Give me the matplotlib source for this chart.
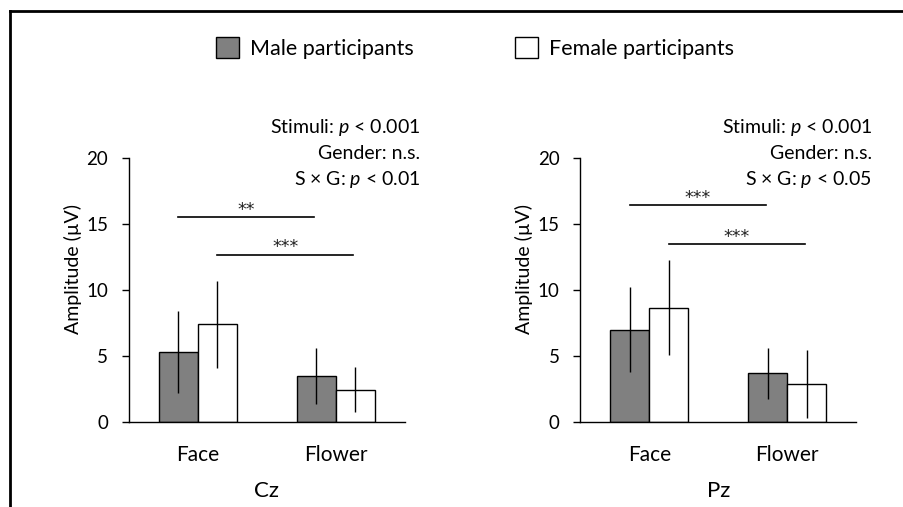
import matplotlib
matplotlib.use("Agg")
import matplotlib.pyplot as plt
from matplotlib.patches import Patch
from matplotlib.lines import Line2D

plt.rcParams['font.family'] = ['Lato', 'DejaVu Sans']
plt.rcParams['mathtext.fontset'] = 'custom'
plt.rcParams['mathtext.rm'] = 'Lato'
plt.rcParams['mathtext.it'] = 'Lato:italic'

categories = ["Face", "Flower"]
series = ["Male participants", "Female participants"]

cz_male = [5.3, 3.5]
cz_male_err = [3.1, 2.1]
cz_female = [7.4, 2.45]
cz_female_err = [3.3, 1.7]

pz_male = [7.0, 3.7]
pz_male_err = [3.2, 1.95]
pz_female = [8.65, 2.9]
pz_female_err = [3.6, 2.6]

# (height, series index, stars)
cz_sig = [(15.5, 0, "**"), (12.65, 1, "***")]
pz_sig = [(16.4, 0, "***"), (13.45, 1, "***")]

cz_stats = ["Stimuli: $p$ < 0.001", "Gender: n.s.", "S × G: $p$ < 0.01"]
pz_stats = ["Stimuli: $p$ < 0.001", "Gender: n.s.", "S × G: $p$ < 0.05"]

colors = ["#808080", "white"]
w = 0.283

fig = plt.figure(figsize=(9.04, 5.07), dpi=100)


def panel(rect, male, male_err, female, female_err, sig, stats, name):
    ax = fig.add_axes(rect)
    x = [0, 1]
    for k, (vals, errs) in enumerate([(male, male_err), (female, female_err)]):
        pos = [i + (k - 0.5) * w for i in x]
        ax.bar(pos, vals, width=w, color=colors[k], edgecolor="black", linewidth=1.0, zorder=2)
        ax.errorbar(pos, vals, yerr=errs, fmt="none", ecolor="black", elinewidth=1.0, capsize=0, zorder=3)
    for h, k, stars in sig:
        x0 = 0 + (k - 0.5) * w
        x1 = 1 + (k - 0.5) * w - 0.015
        ax.plot([x0, x1], [h, h], color="black", linewidth=1.2)
        ax.text((x0 + x1) / 2, h - 0.1, stars, ha="center", va="bottom", fontsize=12.5,
                family="DejaVu Sans", color="#222222")
    ax.set_xlim(-0.5, 1.5)
    ax.set_ylim(0, 20)
    ax.set_yticks([0, 5, 10, 15, 20])
    ax.set_xticks(x, categories)
    ax.tick_params(axis="x", length=0, pad=16, labelsize=15)
    ax.tick_params(axis="y", length=5, width=1.0, pad=10, labelsize=13.5)
    ax.spines["top"].set_visible(False)
    ax.spines["right"].set_visible(False)
    ax.spines["left"].set_linewidth(1.0)
    ax.spines["bottom"].set_linewidth(1.0)
    ax.set_ylabel("Amplitude (µV)", fontsize=14)
    ax.yaxis.set_label_coords(-0.171, 0.579)
    ax.set_xlabel(name, fontsize=16, labelpad=12)
    for j, s in enumerate(stats):
        ax.text(1.058, 1.115 - j * 0.098, s, transform=ax.transAxes, ha="right", va="center", fontsize=14)
    return ax


panel([0.1427, 0.1671, 0.3048, 0.5219], cz_male, cz_male_err, cz_female, cz_female_err, cz_sig, cz_stats, "Cz")
panel([0.6421, 0.1671, 0.3051, 0.5219], pz_male, pz_male_err, pz_female, pz_female_err, pz_sig, pz_stats, "Pz")

handles = [Patch(facecolor=c, edgecolor="black", linewidth=1.0) for c in colors]
fig.legend(handles, series, loc="center", bbox_to_anchor=(0.5254, 0.905), ncol=2, frameon=False,
           fontsize=15.5, handlelength=1.07, handleheight=1.07, handletextpad=0.5, columnspacing=4.7)

# outer frame (top and left edges only)
fig.add_artist(Line2D([9.5 / 904, 1], [1 - 10.5 / 507, 1 - 10.5 / 507], color="black", linewidth=2.0))
fig.add_artist(Line2D([9.5 / 904, 9.5 / 904], [0, 1 - 10.5 / 507], color="black", linewidth=2.0))

fig.savefig("out.png", dpi=100)
